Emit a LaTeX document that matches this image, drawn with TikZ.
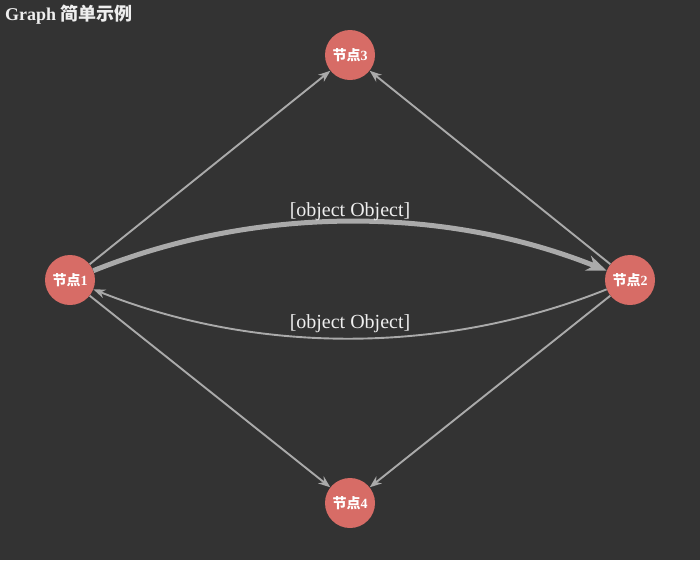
\documentclass[tikz,border=0pt]{standalone}
\usepackage{fontspec}
\setmainfont{Liberation Serif}
\newfontfamily\cjk{Noto Sans CJK SC}
\usetikzlibrary{arrows.meta}
\definecolor{bgdark}{HTML}{333333}
\definecolor{nodered}{HTML}{D76C66}
\definecolor{edgegray}{HTML}{AAAAAA}
\definecolor{textlight}{HTML}{EEEEEE}
\begin{document}
\begin{tikzpicture}[x=1pt, y=-1pt, >={Stealth[length=12pt,width=9pt]},
    vertex/.style={circle, fill=nodered, minimum size=50pt, inner sep=0pt,
      text=white, font=\bfseries\fontsize{14}{14}\selectfont},
    link/.style={->, draw=edgegray, line width=1.9pt},
    biglink/.style={-{Stealth[length=20pt,width=16pt]}, draw=edgegray, line width=5pt},
    edgelabel/.style={text=textlight, font=\fontsize{20}{20}\selectfont, inner sep=2pt}]
    \fill[bgdark] (0,0) rectangle (700,560);
    \node[anchor=north west, inner sep=0pt, text=textlight,
      font=\bfseries\fontsize{18}{18}\selectfont] (title) at (5,5) {Graph {\cjk 简单示例}};
    \node[vertex] (n1) at (70,280) {{\cjk 节点}1};
    \node[vertex] (n2) at (630,280) {{\cjk 节点}2};
    \node[vertex] (n3) at (350,55) {{\cjk 节点}3};
    \node[vertex] (n4) at (350,503) {{\cjk 节点}4};
    \draw[link] (n1) -- (n3);
    \draw[link] (n2) -- (n3);
    \draw[link] (n1) -- (n4);
    \draw[link] (n2) -- (n4);
    % curved pair
    \draw[biglink] (n1) .. controls (256.7,205.3) and (443.3,205.3) .. (n2)
      node[midway, above, yshift=-4pt, edgelabel] {[object Object]};
    \draw[link] (n2) .. controls (443.3,354.7) and (256.7,354.7) .. (n1)
      node[midway, above, yshift=3pt, edgelabel] {[object Object]};
\end{tikzpicture}
\end{document}
